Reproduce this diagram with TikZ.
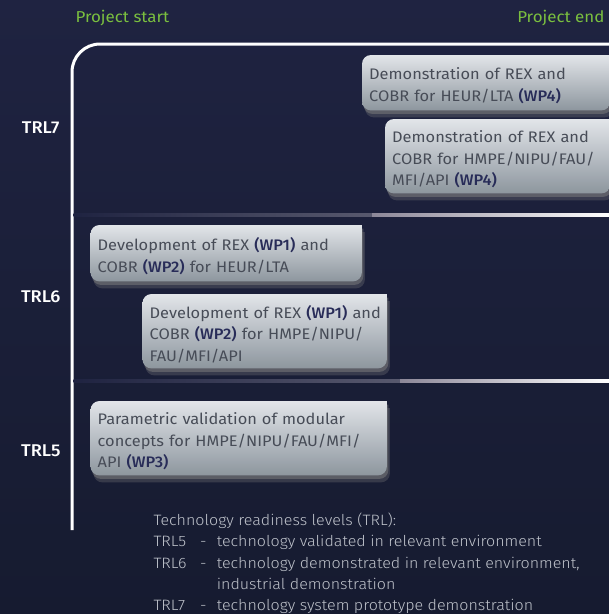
\documentclass[tikz,border=0pt]{standalone}
\usepackage{fontspec}
\setmainfont{Fira Sans}[FakeStretch=1.07,BoldFont={Fira Sans Medium}]
\newfontfamily\lightfont{Fira Sans Light}[FakeStretch=1.07]
\usetikzlibrary{shadows,positioning}
\pgfdeclarelayer{canvas}
\pgfdeclarelayer{background}
\pgfsetlayers{canvas,background,main}

\definecolor{bgtop}{HTML}{1F2341}
\definecolor{bgbot}{HTML}{161B30}
\definecolor{startgreen}{HTML}{7ABF3F}
\definecolor{boxtop}{HTML}{E2E5E9}
\definecolor{boxbot}{HTML}{8D969E}
\definecolor{tasktext}{HTML}{474C57}
\definecolor{wpnavy}{HTML}{282C58}
\definecolor{legendgray}{HTML}{BFC3CB}
\definecolor{sepmid}{HTML}{58596E}
\definecolor{sepstep}{HTML}{8C8798}

\newcommand\wpref[1]{{\bfseries\color{wpnavy}(#1)}}

\tikzset{
	task/.style={anchor=north west,inner xsep=7pt,inner ysep=0pt,align=left,
	  font=\fontsize{15.3}{21.5}\selectfont,text=tasktext},
	taskshade/.style={top color=boxtop,bottom color=boxbot,
	  drop shadow={opacity=.3,shadow xshift=3pt,shadow yshift=-7pt},
	  drop shadow={opacity=.5,shadow xshift=1.5pt,shadow yshift=-3.5pt}},
	trllabel/.style={anchor=base east,text=white,font=\bfseries\fontsize{17}{20}\selectfont},
	milestone/.style={text=startgreen,font=\fontsize{15.8}{18}\selectfont},
	legend/.style={anchor=base west,text=legendgray,font=\lightfont\fontsize{15}{18}\selectfont},
	axisline/.style={white,line width=3pt}
}

\begin{document}
\begin{tikzpicture}[x=1pt,y=-1pt]
	   \begin{pgfonlayer}{canvas}
	   \shade [top color=bgtop,bottom color=bgbot] (0,0) rectangle (609,614);
	   \end{pgfonlayer}
	   \useasboundingbox (0,0) rectangle (609,614);

	   % time axis
	   \node (start) at (72,22) [milestone,anchor=base west] {Project start};
	   \node (end) at (608,22) [milestone,anchor=base east] {Project end};
	   \coordinate (axisbot) at (72,530);
	   \coordinate (axiscorner) at (72,44);
	   \coordinate (axisend) at (612,44);
	   \draw [axisline,rounded corners=28pt]
	     (axisbot) -- (axiscorner) -- (axisend);

	   % level separators
	   \shade [left color=bgtop,right color=sepmid]
	     (73.5,213.5) rectangle (372,216.5);
	   \shade [left color=sepstep,right color=white]
	     (372,213.5) rectangle (609,216.5);
	   \shade [left color=bgtop,right color=sepmid]
	     (73.5,379.5) rectangle (400,382.5);
	   \shade [left color=sepstep,right color=white]
	     (400,379.5) rectangle (609,382.5);

	   \node (trl7) at (63,133) [trllabel] {TRL7};
	   \node (trl6) at (64,302) [trllabel] {TRL6};
	   \node (trl5) at (64,456) [trllabel] {TRL5};

	   % work packages (box = node less 6pt on the right, text 3pt low)
	   \node (demo1) at (362,58) [task,minimum width=254pt,minimum height=55pt,text width=240pt]
	     {Demonstration of REX and\\COBR for HEUR/LTA \wpref{WP4}};
	   \node (demo2) at (385,122) [task,minimum width=231pt,minimum height=74pt,text width=217pt]
	     {Demonstration of REX and\\COBR for HMPE/NIPU/FAU/\\MFI/API \wpref{WP4}};
	   \node (dev1) at (90.5,228) [task,minimum width=277pt,minimum height=56pt,text width=263pt]
	     {Development of REX \wpref{WP1} and\\COBR \wpref{WP2} for HEUR/LTA};
	   \node (dev2) at (142.5,297) [task,minimum width=250pt,minimum height=74pt,text width=236pt]
	     {Development of REX \wpref{WP1} and\\COBR \wpref{WP2} for HMPE/NIPU/\\FAU/MFI/API};
	   \node (param) at (90.5,404) [task,minimum width=302pt,minimum height=74pt,text width=288pt]
	     {Parametric validation of modular\\concepts for HMPE/NIPU/FAU/MFI/\\API \wpref{WP3}};
	   \begin{pgfonlayer}{background}
	   \foreach \b in {demo1,demo2,dev1,dev2,param} {
	     \shade [taskshade] ([xshift=-6pt,yshift=3pt]\b.north east) [rounded corners=9pt]
	       -- ([xshift=-6pt,yshift=3pt]\b.south east) -- ([yshift=3pt]\b.south west)
	       -- ([yshift=3pt]\b.north west) -- ([xshift=-6pt,yshift=3pt]\b.north east);
	   }
	   \end{pgfonlayer}

	   % legend
	   \node (legtitle) at (150,525) [legend] {Technology readiness levels (TRL):};
	   \foreach \lvl/\yy/\txt in {5/546.7/{technology validated in relevant environment},
	       6/568/{technology demonstrated in relevant environment,},
	       7/610.7/{technology system prototype demonstration}} {
	     \node (leg\lvl) at (150,\yy) [legend] {TRL\lvl};
	     \node (dash\lvl) at (196.5,\yy) [legend] {-};
	     \node (def\lvl) at (213.3,\yy) [legend] {\txt};
	   }
	   \node (def6b) at (213.3,589) [legend] {industrial demonstration};
\end{tikzpicture}
\end{document}
